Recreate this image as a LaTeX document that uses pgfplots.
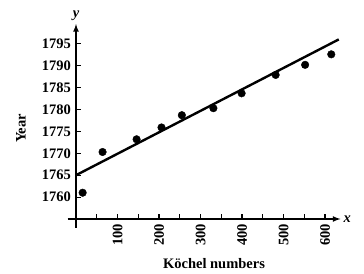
\documentclass[border=0pt]{standalone}
\usepackage{fontspec}
\setmainfont{Liberation Serif}
\usepackage{pgfplots}
\pgfplotsset{compat=1.18}
\begin{document}
\fontsize{14.5}{17}\selectfont\bfseries
\begin{tikzpicture}
\path (0,0) rectangle (364pt,272pt);
\begin{axis}[
  at={(76pt,53pt)}, anchor=south west,
  scale only axis, width=264.4pt, height=194.9pt,
  axis lines=left,
  axis line style={line width=1.6pt, -latex},
  xmin=0, xmax=637, ymin=1755, ymax=1799.5,
  xtick={100,200,300,400,500,600},
  ytick={1760,1765,1770,1775,1780,1785,1790,1795},
  tick align=inside,
  major tick length=5pt,
  every tick/.append style={line width=1.2pt, black},
  xticklabel style={rotate=90, anchor=east, font=\bfseries},
  yticklabel style={font=\bfseries},
  /pgf/number format/assume math mode=true,
  /pgf/number format/1000 sep={},
  xlabel={\textit{x}}, ylabel={\textit{y}},
  xlabel style={at={(rel axis cs:1,0)}, anchor=west, inner sep=3pt},
  ylabel style={at={(rel axis cs:0,1)}, anchor=south, inner sep=3pt, rotate=-90},
  clip=false,
]
\pgfplotsinvokeforeach{50,100,150,200,250,300,350,400,450,500,550,600}{
  \draw[line width=1.2pt, black] (axis cs:#1,1755) -- ++(0pt,5pt);
}
\pgfplotsinvokeforeach{1760,1765,1770,1775,1780,1785,1790,1795}{
  \draw[line width=1.2pt, black] (axis cs:0,#1) -- ++(5pt,0pt);
}
\draw[line width=1.6pt, black] (axis cs:-20,1755) -- (axis cs:0,1755);
\draw[line width=1.6pt, black] (axis cs:0,1753) -- (axis cs:0,1755);
\addplot[black, line width=2.4pt] coordinates {(0,1765) (633,1796)};
\addplot[only marks, mark=*, mark size=3.8pt, black] coordinates {
(16,1761.0) (64,1770.3) (146,1773.2) (206,1775.9) (255,1778.7)
(331,1780.3) (399,1783.7) (481,1787.9) (552,1790.2) (615,1792.6)};
\end{axis}
\node at (214pt,8pt) {Köchel numbers};
\node[rotate=90] at (21pt,143.5pt) {Year};
\end{tikzpicture}
\end{document}
